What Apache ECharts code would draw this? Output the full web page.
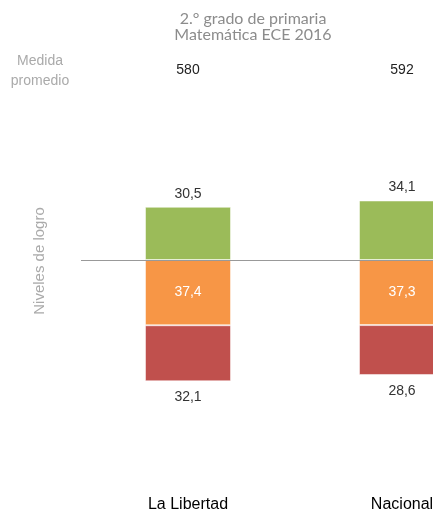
<!DOCTYPE html>
<html>
<head>
<meta charset="utf-8">
<script src="https://cdn.jsdelivr.net/npm/echarts@6/dist/echarts.min.js"></script>
<style>
html,body{margin:0;padding:0;background:#fff;}
#c{width:433px;height:514px;}
</style>
</head>
<body>
<div id="c"></div>
<script>
const categories = ['La Libertad', 'Nacional'];
const medida = [580, 592];
const satisfactorio = [30.5, 34.1];
const enProceso = [37.4, 37.3];
const enInicio = [32.1, 28.6];

const fmt = p => Math.abs(p.value).toFixed(1).replace('.', ',');
const chart = echarts.init(document.getElementById('c'));
chart.setOption({
  animation: false,
  title: {
    text: '2.° grado de primaria\nMatemática ECE 2016',
    left: 248, top: 6, textAlign: 'center',
    textStyle: {fontFamily: 'Lato', fontWeight: 'normal', fontSize: 16, color: '#8c8c8c', lineHeight: 16}
  },
  graphic: [
    {type: 'text', x: 40, y: 71, style: {text: 'Medida\npromedio', fill: '#aaaaaa', font: '14px "Liberation Sans", Arial', align: 'center', verticalAlign: 'middle', lineHeight: 20}},
    {type: 'text', x: 40, y: 261, rotation: Math.PI / 2, style: {text: 'Niveles de logro', fill: '#aaaaaa', font: '15px "Liberation Sans", Arial', align: 'center', verticalAlign: 'middle'}}
  ],
  grid: {left: 81, width: 428, top: 155.3, height: 244.3, outerBoundsMode: 'none', containLabel: false},
  xAxis: [{
    type: 'category', data: categories, position: 'bottom',
    axisLine: {show: false, onZero: false},
    axisTick: {show: false},
    axisLabel: {margin: 97, color: '#000', fontSize: 16, fontFamily: '"Liberation Sans", Arial', interval: 0, hideOverlap: false}
  }, {
    type: 'category', data: medida.map(String), position: 'top',
    axisLine: {show: false}, axisTick: {show: false},
    axisLabel: {margin: 78, color: '#222', fontSize: 14, fontFamily: '"Liberation Sans", Arial'}
  }],
  yAxis: {type: 'value', min: -80, max: 60, show: false, splitLine: {show: false}},
  series: [
    {
      name: 'Satisfactorio', type: 'bar', stack: 'n', barWidth: 86,
      data: satisfactorio,
      itemStyle: {color: '#9BBB59', borderColor: 'rgba(255,255,255,0.5)', borderWidth: 1},
      label: {show: true, position: 'top', distance: 6, color: '#333', fontSize: 14, fontFamily: '"Liberation Sans", Arial', formatter: fmt},
      markLine: {
        silent: true, symbol: 'none', z: 10,
        lineStyle: {color: '#999999', width: 1, type: 'solid'},
        label: {show: false},
        data: [{yAxis: 0}]
      }
    },
    {
      name: 'En proceso', type: 'bar', stack: 'n',
      data: enProceso.map(v => -v),
      itemStyle: {color: '#F79646', borderColor: 'rgba(255,255,255,0.5)', borderWidth: 1},
      label: {show: true, position: 'inside', color: '#fff', fontSize: 14, fontFamily: '"Liberation Sans", Arial', formatter: fmt}
    },
    {
      name: 'En inicio', type: 'bar', stack: 'n',
      data: enInicio.map(v => -v),
      itemStyle: {color: '#C0504D', borderColor: 'rgba(255,255,255,0.5)', borderWidth: 1},
      label: {show: true, position: 'bottom', distance: 9, color: '#333', fontSize: 14, fontFamily: '"Liberation Sans", Arial', formatter: fmt}
    }
  ]
});
</script>
</body>
</html>
